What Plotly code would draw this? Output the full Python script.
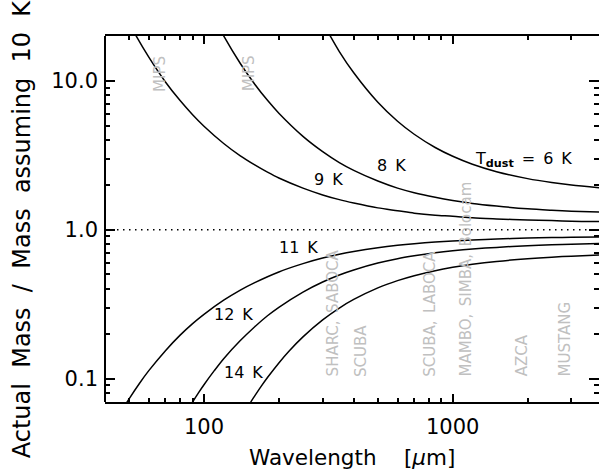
import math
import plotly.graph_objects as go

# ---- data ----
lam_6 = [300, 320, 350, 400, 500, 600, 700, 850, 1000, 1200, 1500, 2000, 2500, 3000, 4000]
ratio_6 = [24.7, 20.3, 15.7, 11.3, 7.16, 5.34, 4.37, 3.56, 3.11, 2.75, 2.45, 2.20, 2.07, 1.99, 1.90]

lam_8 = [110, 120, 140, 160, 180, 200, 250, 300, 350, 400, 500, 600, 700, 850, 1000, 1200, 1500, 2000, 2500, 3000, 4000]
ratio_8 = [26.3, 20.0, 13.05, 9.47, 7.38, 6.05, 4.23, 3.34, 2.82, 2.50, 2.12, 1.90, 1.77, 1.65, 1.57, 1.50, 1.44, 1.38, 1.35, 1.33, 1.31]

lam_9 = [50, 53, 60, 70, 80, 90, 100, 120, 140, 160, 180, 200, 250, 300, 350, 400, 500, 600, 700, 850, 1000, 1200, 1500, 2000, 2500, 3000, 4000]
ratio_9 = [24.5, 20.4, 14.4, 9.81, 7.38, 5.91, 4.95, 3.79, 3.13, 2.72, 2.43, 2.22, 1.90, 1.71, 1.59, 1.51, 1.40, 1.34, 1.29, 1.25, 1.23, 1.20, 1.18, 1.16, 1.15, 1.14, 1.135]

lam_11 = [45, 48, 50, 55, 60, 70, 80, 90, 100, 120, 140, 160, 200, 250, 300, 350, 400, 500, 600, 700, 850, 1000, 1200, 1500, 2000, 2500, 3000, 4000]
ratio_11 = [0.0547, 0.0656, 0.0731, 0.0927, 0.113, 0.154, 0.195, 0.234, 0.270, 0.336, 0.393, 0.441, 0.520, 0.591, 0.644, 0.683, 0.713, 0.756, 0.785, 0.805, 0.825, 0.839, 0.852, 0.865, 0.877, 0.884, 0.888, 0.894]

lam_12 = [85, 88, 90, 95, 100, 110, 120, 140, 160, 180, 200, 250, 300, 350, 400, 500, 600, 700, 850, 1000, 1200, 1500, 2000, 2500, 3000, 4000]
ratio_12 = [0.0595, 0.0656, 0.0696, 0.0801, 0.0909, 0.113, 0.136, 0.180, 0.223, 0.264, 0.301, 0.381, 0.445, 0.496, 0.536, 0.596, 0.638, 0.667, 0.699, 0.721, 0.741, 0.760, 0.780, 0.791, 0.798, 0.808]

lam_14 = [145, 150, 155, 160, 170, 180, 200, 220, 250, 300, 350, 400, 500, 600, 700, 850, 1000, 1200, 1500, 2000, 2500, 3000, 4000]
ratio_14 = [0.0587, 0.0646, 0.0705, 0.0765, 0.0889, 0.1016, 0.1274, 0.1532, 0.1906, 0.2478, 0.2975, 0.3397, 0.4061, 0.4544, 0.4906, 0.5301, 0.5581, 0.5848, 0.6114, 0.6377, 0.6535, 0.6638, 0.6767]

curve_labels = ["9\u2002K", "8\u2002K", "T<sub><b>dust</b></sub>\u2002=\u20026\u2002K", "11\u2002K", "12\u2002K", "14\u2002K"]
curve_label_lam = [318, 565, 1926, 239, 132, 144]
curve_label_ratio = [2.16, 2.71, 2.95, 0.755, 0.27, 0.109]

instruments = ["MIPS", "MIPS", "SHARC,\u2002SABOCA", "SCUBA", "SCUBA,\u2002LABOCA",
               "MAMBO,\u2002SIMBA,\u2002Bolocam", "AZCA", "MUSTANG"]
instrument_lam = [70, 160, 350, 450, 850, 1200, 2000, 3000]
instrument_base = [8.2, 8.2, 0.1, 0.1, 0.1, 0.1, 0.1, 0.1]

x_ticks = [100, 1000]
x_ticktext = ["100", "1000"]
y_ticks = [0.1, 1.0, 10.0]
y_ticktext = ["0.1", "1.0", "10.0"]

x_minor = [50, 60, 70, 80, 90, 200, 300, 400, 500, 600, 700, 800, 900, 2000, 3000]
y_minor = [0.08, 0.09, 0.2, 0.3, 0.4, 0.5, 0.6, 0.7, 0.8, 0.9, 2, 3, 4, 5, 6, 7, 8, 9]

x_range = [40, 3873]
y_range = [0.0696, 19.96]

FONT = "DejaVu Sans"

fig = go.Figure()
for lam, ratio in [(lam_6, ratio_6), (lam_8, ratio_8), (lam_9, ratio_9),
                   (lam_11, ratio_11), (lam_12, ratio_12), (lam_14, ratio_14)]:
    fig.add_trace(go.Scatter(x=lam, y=ratio, mode="lines",
                             line=dict(color="black", width=1.5, shape="spline", smoothing=0.8),
                             showlegend=False, hoverinfo="skip"))

# dotted line at ratio = 1
fig.add_trace(go.Scatter(x=x_range, y=[1.0, 1.0], mode="lines",
                         line=dict(color="black", width=1.5, dash="1.5px,4.5px"),
                         showlegend=False, hoverinfo="skip"))

annotations = []
for txt, lx, ly in zip(curve_labels, curve_label_lam, curve_label_ratio):
    annotations.append(dict(x=math.log10(lx), y=math.log10(ly), xref="x", yref="y",
                            text=txt, showarrow=False, xanchor="center", yanchor="middle",
                            font=dict(family=FONT, size=16, color="black")))
for txt, lx, ly in zip(instruments, instrument_lam, instrument_base):
    annotations.append(dict(x=math.log10(lx), y=math.log10(ly), xref="x", yref="y",
                            text=txt, showarrow=False, textangle=-90,
                            xanchor="center", yanchor="bottom", xshift=-6,
                            font=dict(family=FONT, size=15, color="#c0c0c0")))

sp = "\u00a0\u00a0"
annotations.append(dict(x=-0.168, y=0.472, xref="paper", yref="paper",
                        text=sp.join(["Actual", "Mass", "/", "Mass", "assuming", "10", "K"]),
                        textangle=-90, showarrow=False, xanchor="center", yanchor="middle",
                        font=dict(family=FONT, size=24, color="black")))
annotations.append(dict(x=0.5, y=-0.152, xref="paper", yref="paper",
                        text="Wavelength\u00a0\u00a0\u00a0\u00a0[<i>\u03bc</i>m]",
                        showarrow=False, xanchor="center", yanchor="middle",
                        font=dict(family=FONT, size=21.5, color="black")))

fig.update_layout(
    width=599, height=475,
    margin=dict(l=105, r=0, t=36, b=73),
    paper_bgcolor="white", plot_bgcolor="white",
    font=dict(family=FONT, size=21, color="black"),
    annotations=annotations,
    shapes=[dict(type="line", xref="paper", yref="paper", x0=0, x1=0, y0=0, y1=1,
                 line=dict(color="black", width=2))],
)
fig.update_xaxes(type="log", range=[math.log10(v) for v in x_range],
                 showgrid=False, zeroline=False,
                 showline=True, linecolor="black", linewidth=2, mirror="ticks",
                 ticks="inside", ticklen=8, tickwidth=1.5, tickcolor="black",
                 tickvals=x_ticks, ticktext=x_ticktext, ticklabelstandoff=5,
                 tickfont=dict(family=FONT, size=21),
                 minor=dict(ticks="inside", ticklen=4, tickwidth=1.5, tickcolor="black",
                            tickvals=x_minor, showgrid=False))
fig.update_yaxes(type="log", range=[math.log10(v) for v in y_range],
                 showgrid=False, zeroline=False,
                 showline=False, mirror="ticks",
                 ticks="inside", ticklen=10, tickwidth=1.5, tickcolor="black",
                 tickvals=y_ticks, ticktext=y_ticktext, ticklabelstandoff=6,
                 tickfont=dict(family=FONT, size=21),
                 minor=dict(ticks="inside", ticklen=5, tickwidth=1.5, tickcolor="black",
                            tickvals=y_minor, showgrid=False))

fig.write_html("out.html", config={"displayModeBar": False},
               post_script="document.body.style.margin='0';document.body.style.overflow='hidden';")
